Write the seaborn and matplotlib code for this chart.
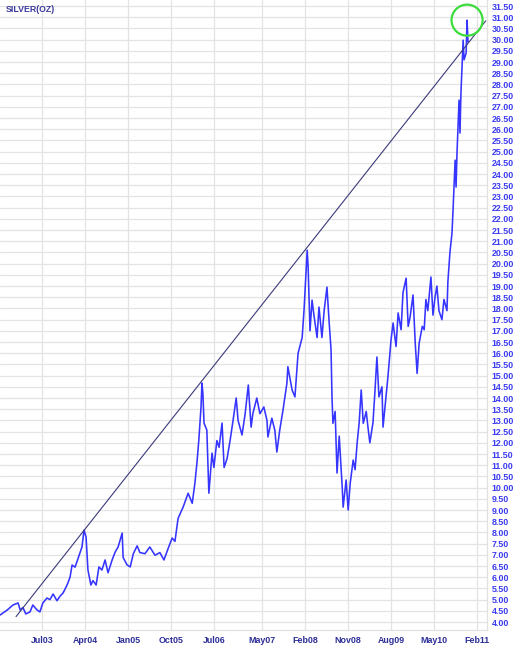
import matplotlib
matplotlib.use("Agg")
import matplotlib.pyplot as plt
import matplotlib.ticker as mticker
import pandas as pd
import seaborn as sns

# Silver price
dates = [
    "2002-10-07", "2002-11-21", "2002-12-29", "2003-01-30", "2003-02-13", "2003-03-02",
    "2003-03-20", "2003-04-16", "2003-05-04", "2003-05-29", "2003-06-18", "2003-07-07",
    "2003-08-02", "2003-08-21", "2003-09-10", "2003-10-05", "2003-10-24", "2003-11-13",
    "2003-12-08", "2003-12-27", "2004-01-09", "2004-01-28", "2004-02-17", "2004-03-12",
    "2004-03-25", "2004-04-07", "2004-04-19", "2004-05-08", "2004-05-21", "2004-06-10",
    "2004-06-28", "2004-07-17", "2004-08-06", "2004-08-25", "2004-09-20", "2004-10-09",
    "2004-10-28", "2004-11-23", "2004-11-29", "2004-12-24", "2005-01-13", "2005-02-02",
    "2005-02-26", "2005-03-16", "2005-04-17", "2005-05-18", "2005-06-20", "2005-07-21",
    "2005-08-16", "2005-09-11", "2005-10-07", "2005-10-25", "2005-11-14", "2005-12-16",
    "2006-01-17", "2006-02-12", "2006-03-01", "2006-03-14", "2006-03-26", "2006-04-09",
    "2006-04-15", "2006-04-21", "2006-04-28", "2006-05-16", "2006-05-29", "2006-06-18",
    "2006-06-30", "2006-07-19", "2006-08-02", "2006-08-21", "2006-09-03", "2006-09-22",
    "2006-10-11", "2006-10-30", "2006-11-19", "2006-12-01", "2006-12-26", "2007-01-15",
    "2007-02-04", "2007-02-22", "2007-03-05", "2007-03-30", "2007-04-19", "2007-05-14",
    "2007-06-03", "2007-06-09", "2007-07-04", "2007-07-23", "2007-08-05", "2007-08-24",
    "2007-09-13", "2007-10-08", "2007-10-14", "2007-11-10", "2007-11-28", "2007-12-18",
    "2008-01-13", "2008-01-25", "2008-02-14", "2008-02-20", "2008-03-03", "2008-03-16",
    "2008-03-28", "2008-04-17", "2008-04-29", "2008-05-18", "2008-06-01", "2008-06-19",
    "2008-07-02", "2008-07-15", "2008-07-21", "2008-07-27", "2008-08-10", "2008-08-22",
    "2008-09-05", "2008-09-24", "2008-09-30", "2008-10-19", "2008-11-01", "2008-11-14",
    "2008-12-03", "2008-12-15", "2008-12-28", "2009-01-10", "2009-01-23", "2009-02-05",
    "2009-02-24", "2009-03-07", "2009-03-19", "2009-04-08", "2009-04-21", "2009-05-03",
    "2009-05-16", "2009-06-04", "2009-06-11", "2009-06-30", "2009-07-12", "2009-08-01",
    "2009-08-14", "2009-09-02", "2009-09-15", "2009-10-04", "2009-10-16", "2009-11-05",
    "2009-11-18", "2009-11-30", "2009-12-19", "2010-01-02", "2010-01-14", "2010-01-27",
    "2010-02-16", "2010-02-28", "2010-03-11", "2010-03-23", "2010-04-12", "2010-04-25",
    "2010-05-08", "2010-05-20", "2010-06-02", "2010-06-21", "2010-07-04", "2010-07-23",
    "2010-07-29", "2010-08-11", "2010-08-24", "2010-08-30", "2010-09-06", "2010-09-13",
    "2010-09-19", "2010-09-25", "2010-10-08", "2010-10-14", "2010-10-20", "2010-10-27",
    "2010-11-03", "2010-11-09", "2010-11-22", "2010-11-28", "2010-12-04",
]
prices = [
    4.31, 4.53, 4.76, 4.85, 4.53, 4.65,
    4.36, 4.45, 4.76, 4.55, 4.45, 4.85,
    5.07, 5.00, 5.25, 4.95, 5.15, 5.30,
    5.65, 6.00, 6.54, 6.45, 6.86, 7.35,
    8.10, 7.80, 6.32, 5.65, 5.85, 5.65,
    6.46, 6.32, 6.77, 6.20, 6.77, 7.12,
    7.35, 7.97, 6.88, 6.55, 6.46, 7.05,
    7.40, 7.10, 7.05, 7.35, 6.98, 7.10,
    6.77, 7.27, 7.75, 7.60, 8.63, 9.13,
    9.75, 9.30, 10.20, 11.10, 12.12, 13.60,
    14.67, 14.20, 12.88, 12.57, 9.75, 11.54,
    10.90, 12.10, 11.80, 12.88, 10.90, 11.30,
    12.10, 13.00, 14.00, 13.00, 12.35, 13.30,
    14.58, 12.70, 13.30, 14.00, 13.30, 13.60,
    13.00, 12.26, 13.10, 12.56, 11.59, 12.60,
    13.46, 14.67, 15.40, 14.36, 14.05, 16.00,
    16.70, 17.93, 20.60, 19.85, 17.00, 18.37,
    17.70, 16.70, 18.06, 16.70, 17.90, 18.95,
    17.48, 16.14, 14.04, 12.87, 13.40, 10.65,
    12.30, 10.03, 9.13, 10.34, 9.00, 10.20,
    11.23, 10.80, 11.99, 12.90, 14.36, 12.87,
    13.40, 12.70, 12.00, 12.90, 14.36, 15.83,
    14.05, 14.50, 12.70, 14.05, 14.93, 16.60,
    17.35, 16.30, 17.80, 17.05, 18.70, 19.35,
    17.20, 17.60, 18.60, 16.45, 15.10, 16.45,
    17.20, 17.05, 18.40, 17.90, 19.40, 17.70,
    18.50, 19.00, 17.90, 17.50, 18.40, 17.90,
    19.20, 20.50, 21.36, 22.26, 23.42, 24.62,
    23.42, 24.94, 27.30, 25.83, 27.60, 28.78,
    29.98, 29.10, 29.40, 30.87, 29.90,
]

# trend line touching the 2004, 2006 and 2008 highs
trend_dates = ["2003-01-17", "2011-03-27"]
trend_prices = [4.24, 30.84]

tick_dates = ["2003-07-01", "2004-04-01", "2005-01-01", "2005-10-01", "2006-07-01",
              "2007-05-01", "2008-02-01", "2008-11-01", "2009-08-01", "2010-05-01",
              "2011-02-01"]
tick_labels = ["Jul03", "Apr04", "Jan05", "Oct05", "Jul06", "May07", "Feb08",
               "Nov08", "Aug09", "May10", "Feb11"]

sns.set_style("white")
plt.rcParams["font.family"] = ["Liberation Sans", "DejaVu Sans"]
plt.rcParams["font.weight"] = "bold"

df = pd.DataFrame({"date": pd.to_datetime(dates), "price": prices})
trend = pd.DataFrame({"date": pd.to_datetime(trend_dates), "price": trend_prices})

fig = plt.figure(figsize=(5.15, 6.48), dpi=100)
ax = fig.add_axes([0, 18 / 648, 487 / 515, 630 / 648])

sns.lineplot(data=df, x="date", y="price", ax=ax, color="#3535ff", linewidth=1.15)
sns.lineplot(data=trend, x="date", y="price", ax=ax, color="#3a3a7a", linewidth=0.8)

# green circle around the all-time high
peak = df["price"].idxmax()
ax.scatter(df.loc[peak, "date"], df.loc[peak, "price"], s=500, facecolors="none",
           edgecolors="#3ddc3d", linewidths=1.6, zorder=5)

ax.set_xlim(pd.Timestamp("2002-10-07"), pd.Timestamp("2011-04-04"))
ax.set_ylim(3.643, 31.77)

ax.yaxis.tick_right()
ax.yaxis.set_major_locator(mticker.MultipleLocator(0.5))
ax.yaxis.set_major_formatter(mticker.FormatStrFormatter("%.2f"))
ax.set_xticks(pd.to_datetime(tick_dates))
ax.set_xticklabels(tick_labels)

ax.grid(True, color="#e3e3e3", linewidth=0.9)
ax.set_axisbelow(True)
ax.tick_params(axis="y", length=0, pad=3.5, labelsize=6.4, labelcolor="#3b3bf0")
ax.tick_params(axis="x", length=0, pad=4, labelsize=6.4, labelcolor="#2e2e99")
ax.set_xlabel("")
ax.set_ylabel("")

for side in ["left", "top"]:
    ax.spines[side].set_visible(False)
for side in ["right", "bottom"]:
    ax.spines[side].set_color("#e0e0e0")
    ax.spines[side].set_linewidth(0.9)

fig.text(6 / 515, 1 - 10 / 648, "SILVER(OZ)", ha="left", va="center",
         color="#3a3a9e", fontsize=6.3, fontweight="bold")

fig.savefig("out.png", dpi=100)
